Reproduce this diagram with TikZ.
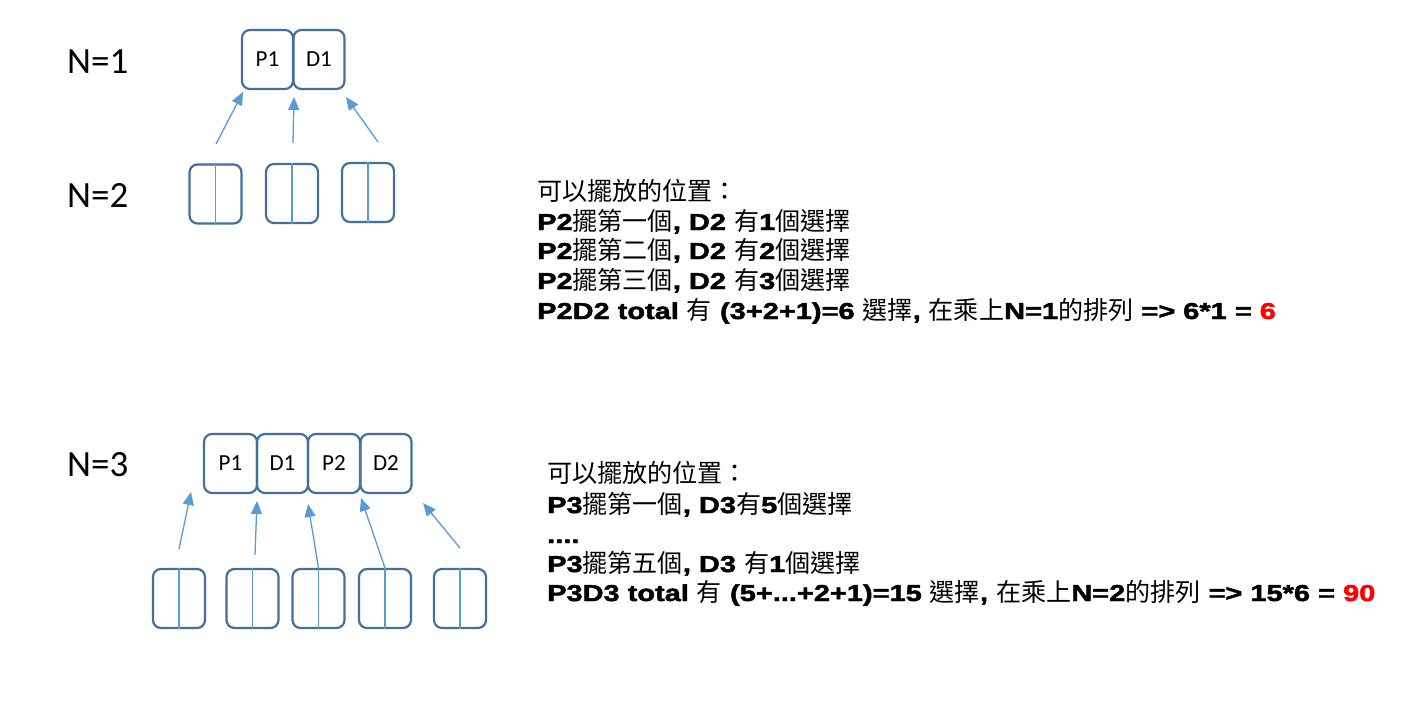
\documentclass[tikz,border=0pt]{standalone}
\usepackage{fontspec}
\usetikzlibrary{arrows.meta}
\setmainfont{Liberation Sans}
\newfontfamily\calfont{Carlito}
\newfontfamily\cjk[Scale=1.09]{Noto Sans CJK TC}
\newfontfamily\blk[FakeBold=2,FakeStretch=1.26]{Liberation Sans Bold}
\definecolor{boxblue}{HTML}{41719C}
\definecolor{lineblue}{HTML}{5B9BD5}
\newcommand{\B}[1]{{\blk #1}}
\newcommand{\C}[1]{{\cjk #1}}
\begin{document}
\begin{tikzpicture}[x=1pt,y=-1pt,
  cell/.style={draw=boxblue, line width=2.2pt, rounded corners=8pt,
    minimum width=51pt, minimum height=59pt, inner sep=0pt,
    font=\calfont\fontsize{23}{23}\selectfont},
  emptycell/.style={cell, minimum width=52pt},
  divider/.style={draw=lineblue, line width=1.1pt},
  arr/.style={draw=lineblue, line width=1.3pt, -{Triangle[length=13pt,width=11pt]}},
  nlabel/.style={font=\calfont\fontsize{37}{37}\selectfont, anchor=west, inner sep=0pt},
  txt/.style={anchor=base west, inner sep=0pt, font=\fontsize{23}{23}\selectfont}
]
\useasboundingbox (0,0) rectangle (1417,701);
\fill[white] (0,0) rectangle (1417,701);

% labels
\node[nlabel] (n1) at (67,62) {N=1};
\node[nlabel] (n2) at (67,195) {N=2};
\node[nlabel] (n3) at (67,465) {N=3};

% N=1 row
\node[cell] (p1) at (267.5,59.5) {P1};
\node[cell] (d1) at (319,59.5) {D1};

% N=2 row
\foreach \i/\x/\y in {1/215.5/194, 2/292/193.5, 3/368/192.5}{
  \node[emptycell] (e\i) at (\x,\y) {};
  \draw[divider] (e\i.north) -- (e\i.south);
}
\coordinate (s1) at (216,144);
\coordinate (t1) at (243,92);
\coordinate (s2) at (293,143);
\coordinate (t2) at (294,97);
\coordinate (s3) at (378,142);
\coordinate (t3) at (346,97);
\draw[arr] (s1) -- (t1);
\draw[arr] (s2) -- (t2);
\draw[arr] (s3) -- (t3);

% N=3 row
\node[cell, minimum width=53pt] (q1) at (230.5,463.5) {P1};
\node[cell] (q2) at (282.5,463.5) {D1};
\node[cell, minimum width=52pt] (q3) at (334,463.5) {P2};
\node[cell] (q4) at (386,463.5) {D2};

\foreach \i/\x in {1/179, 2/252.5, 3/318.5, 4/385, 5/460}{
  \node[emptycell] (f\i) at (\x,598.5) {};
  \draw[divider] (f\i.north) -- (f\i.south);
}
\coordinate (u1) at (179,549);
\coordinate (v1) at (191,492);
\coordinate (u2) at (255,555);
\coordinate (v2) at (257,501);
\coordinate (v3) at (308,504);
\coordinate (v4) at (361,498);
\coordinate (u5) at (460,548);
\coordinate (v5) at (423,503);
\draw[arr] (u1) -- (v1);
\draw[arr] (u2) -- (v2);
\draw[arr] (f3.north) -- (v3);
\draw[arr] (f4.north) -- (v4);
\draw[arr] (u5) -- (v5);

% text block 1
\node[txt] (a1) at (537,200) {\C{可以擺放的位置：}};
\node[txt] (a2) at (537,230) {\B{P2}\C{擺第一個}\B{, D2 }\C{有}\B{1}\C{個選擇}};
\node[txt] (a3) at (537,259) {\B{P2}\C{擺第二個}\B{, D2 }\C{有}\B{2}\C{個選擇}};
\node[txt] (a4) at (537,289) {\B{P2}\C{擺第三個}\B{, D2 }\C{有}\B{3}\C{個選擇}};
\node[txt] (a5) at (537,319) {\B{P2D2 total }\C{有}\B{ (3+2+1)=6 }\C{選擇}\B{, }\C{在乘上}\B{N=1}\C{的排列}\B{ => 6*1 = }{\blk\color{red}6}};

% text block 2
\node[txt] (b1) at (547,482) {\C{可以擺放的位置：}};
\node[txt] (b2) at (547,513) {\B{P3}\C{擺第一個}\B{, D3}\C{有}\B{5}\C{個選擇}};
\node[txt] (b3) at (547,543) {\B{....}};
\node[txt] (b4) at (547,572) {\B{P3}\C{擺第五個}\B{, D3 }\C{有}\B{1}\C{個選擇}};
\node[txt] (b5) at (547,601) {\B{P3D3 total }\C{有}\B{ (5+...+2+1)=15 }\C{選擇}\B{, }\C{在乘上}\B{N=2}\C{的排列}\B{ => 15*6 = }{\blk\color{red}90}};
\end{tikzpicture}
\end{document}
